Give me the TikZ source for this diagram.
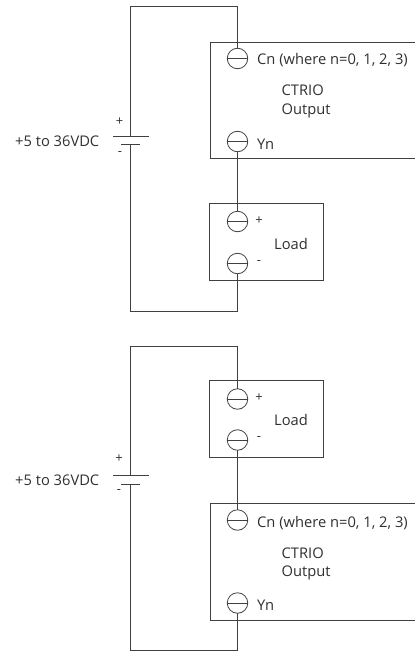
\documentclass[tikz,border=0pt]{standalone}
\usepackage{fontspec}
\setmainfont{Open Sans}
\definecolor{ink}{HTML}{404040}
\definecolor{txt}{HTML}{303030}
\tikzset{
  wire/.style={draw=ink,line width=0.9bp},
  term/.style={circle,draw=ink,line width=0.8bp,minimum size=20.5bp,inner sep=0pt,outer sep=0pt},
  lbl/.style={anchor=base west,inner sep=0pt,text=txt,font=\fontsize{14.7bp}{16bp}\selectfont},
  sym/.style={anchor=center,inner sep=0pt,text=txt,font=\fontsize{13bp}{15bp}\selectfont},
}
\newcommand{\termbar}[1]{\draw[wire] (#1.west) -- (#1.east);}
\begin{document}
\begin{tikzpicture}[x=1bp,y=-1bp]
\useasboundingbox (0,0) rectangle (415,651);
% --- upper circuit
\draw[wire] (210,42) -- (415,42) (210,42) -- (210,158.5) -- (415,158.5);
\node[term] (c1) at (237.5,58.5) {}; \termbar{c1}
\node[term] (y1) at (237.5,141.5) {}; \termbar{y1}
\node[lbl] (c1t) at (257,64.5) {Cn (where n=0, 1, 2, 3)};
\node[lbl] (ctrio1) at (281.5,96) {CTRIO};
\node[lbl] (out1) at (281.5,115) {Output};
\node[lbl] (y1t) at (257,149) {Yn};
\node[draw=ink,line width=0.9bp,minimum width=113.5bp,minimum height=77bp,inner sep=0pt,outer sep=0pt] (load1) at (266.5,241.5) {};
\node[term] (p1) at (237.5,221.5) {}; \termbar{p1}
\node[term] (m1) at (237.5,263.5) {}; \termbar{m1}
\node[sym] (p1t) at (259,221) {+};
\node[sym] (m1t) at (259,263) {-};
\node[lbl] (l1t) at (274,249) {Load};
\coordinate (a1) at (113,136); \coordinate (b1) at (149,136);
\coordinate (a2) at (121,144.5); \coordinate (b2) at (140,144.5);
\draw[wire] (a1) -- (b1); \draw[wire] (a2) -- (b2);
\coordinate (tp1) at (130,136); \coordinate (tn1) at (130,144.5);
\coordinate (top1) at (130,6.5); \coordinate (bot1) at (130,311);
\draw[wire] (tp1) -- (top1) -| (c1.north);
\draw[wire] (tn1) -- (bot1) -| (m1.south);
\draw[wire] (y1.south) -- (p1.north);
\node[lbl] (v1) at (15,146) {+5 to 36VDC};
\node[sym] (vp1) at (119.5,121.5) {+};
\node[sym] (vm1) at (120,154) {-};
% --- lower circuit
\node[draw=ink,line width=0.9bp,minimum width=113.5bp,minimum height=77bp,inner sep=0pt,outer sep=0pt] (load2) at (266.5,418.5) {};
\node[term] (p2) at (237.5,399) {}; \termbar{p2}
\node[term] (m2) at (237.5,440) {}; \termbar{m2}
\node[sym] (p2t) at (259,397.5) {+};
\node[sym] (m2t) at (259,439) {-};
\node[lbl] (l2t) at (274,425) {Load};
\draw[wire] (210,503.5) -- (415,503.5) (210,503.5) -- (210,620) -- (415,620);
\node[term] (c2) at (237.5,520) {}; \termbar{c2}
\node[term] (y2) at (237.5,603) {}; \termbar{y2}
\node[lbl] (c2t) at (257,527) {Cn (where n=0, 1, 2, 3)};
\node[lbl] (ctrio2) at (281.5,558.5) {CTRIO};
\node[lbl] (out2) at (281.5,576.5) {Output};
\node[lbl] (y2t) at (257,610.5) {Yn};
\coordinate (c1a) at (113,475.5); \coordinate (c1b) at (149,475.5);
\coordinate (c2a) at (121,484); \coordinate (c2b) at (140,484);
\draw[wire] (c1a) -- (c1b); \draw[wire] (c2a) -- (c2b);
\coordinate (tp2) at (130,475.5); \coordinate (tn2) at (130,484);
\coordinate (top2) at (130,346); \coordinate (bot2) at (130,650);
\draw[wire] (tp2) -- (top2) -| (p2.north);
\draw[wire] (tn2) -- (bot2) -| (y2.south);
\draw[wire] (m2.south) -- (c2.north);
\node[lbl] (v2) at (15,485) {+5 to 36VDC};
\node[sym] (vp2) at (119,459) {+};
\node[sym] (vm2) at (119,492) {-};
\end{tikzpicture}
\end{document}
